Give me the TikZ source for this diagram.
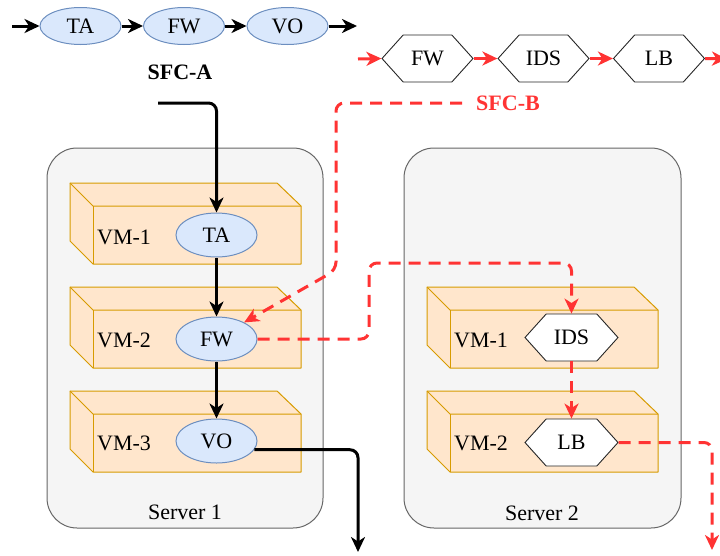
\documentclass[tikz,border=0pt]{standalone}
\usepackage{fontspec}
\setmainfont{Liberation Serif}
\usetikzlibrary{arrows.meta,shapes.symbols,shapes.geometric}
\definecolor{srvfill}{HTML}{F5F5F5}
\definecolor{srvline}{HTML}{666666}
\definecolor{vmfill}{HTML}{FFE6CC}
\definecolor{vmline}{HTML}{D79B00}
\definecolor{vnffill}{HTML}{DAE8FC}
\definecolor{vnfline}{HTML}{6C8EBF}
\definecolor{chainb}{HTML}{FF3333}
\tikzset{
  server/.style={draw=srvline, fill=srvfill, line width=1pt, rounded corners=30pt},
  vnf/.style={ellipse, draw=vnfline, fill=vnffill, line width=1pt, inner sep=0pt,
    minimum width=81pt, minimum height=44pt},
  topvnf/.style={vnf, minimum height=37pt},
  hexvnf/.style={shape=signal, signal to=west and east, signal pointer angle=96,
    draw=black!85, fill=white, line width=0.9pt, inner sep=0pt,
    minimum width=93pt, minimum height=47pt},
  tophex/.style={hexvnf, minimum width=91pt},
  arrowend/.style={-{Stealth[length=15pt,width=14pt,inset=4.5pt]}},
  flowa/.style={arrowend, line width=3pt, black, rounded corners=8pt},
  flowb/.style={arrowend, line width=3pt, chainb, dash pattern=on 12pt off 8pt,
    rounded corners=8pt},
  chaina/.style={arrowend, line width=3pt, black},
  chainbtop/.style={arrowend, line width=3pt, chainb},
  vmlabel/.style={anchor=west, inner sep=0pt},
  vmbox/.pic={
    \path[fill=vmfill, draw=vmline, line width=1pt, line join=round]
      (0,0) -- (207,0) -- (231,23) -- (231,81) -- (23,81) -- (0,58) -- cycle;
    \draw[vmline, line width=1pt, line join=round] (0,0) -- (23,23) -- (231,23);
    \draw[vmline, line width=1pt] (23,23) -- (23,81);
  }
}
\begin{document}
\begin{tikzpicture}[x=1pt, y=-1pt, font=\fontsize{22}{25}\selectfont]
\useasboundingbox (0,0) rectangle (720,555);

% servers
\path[server] (47,148) rectangle (323,528);
\path[server] (404,148) rectangle (681,528);
\node (srv1) at (185,512) {Server 1};
\node (srv2) at (542,513) {Server 2};

% virtual machines
\pic at (70,183) {vmbox};
\pic at (70,287) {vmbox};
\pic at (70,391) {vmbox};
\pic at (427,287) {vmbox};
\pic at (427,391) {vmbox};
\node[vmlabel] (vm11) at (97,237) {VM-1};
\node[vmlabel] (vm12) at (97,340) {VM-2};
\node[vmlabel] (vm13) at (97,443) {VM-3};
\node[vmlabel] (vm21) at (454,340) {VM-1};
\node[vmlabel] (vm22) at (454,443) {VM-2};

% functions placed on the servers
\node[vnf] (ta) at (216.5,235) {TA};
\node[vnf] (fw) at (216.5,339) {FW};
\node[vnf] (vo) at (216.5,441) {VO};
\node[hexvnf] (ids) at (571.5,337.5) {IDS};
\node[hexvnf] (lb) at (571.5,442.5) {LB};

% chain SFC-A (top left)
\node[topvnf] (ta0) at (80.5,26) {TA};
\node[topvnf] (fw0) at (184,26) {FW};
\node[topvnf] (vo0) at (287.5,26) {VO};
\node[font=\fontsize{22}{25}\selectfont\bfseries] (sfca) at (180,72) {SFC-A};
\coordinate (ain) at (12,26);
\coordinate (aout) at (357,26);
\draw[chaina] (ain) -- (ta0.west);
\draw[chaina] (ta0.east) -- (fw0.west);
\draw[chaina] (fw0.east) -- (vo0.west);
\draw[chaina] (vo0.east) -- (aout);

% chain SFC-B (top right)
\node[tophex] (fw1) at (427.5,58.5) {FW};
\node[tophex] (ids1) at (543.5,58.5) {IDS};
\node[tophex] (lb1) at (659,58.5) {LB};
\node[font=\fontsize{22}{25}\selectfont\bfseries, text=chainb] (sfcb) at (508,103) {SFC-B};
\coordinate (bin) at (358,59);
\coordinate (bout) at (727,59);
\draw[chainbtop] (bin) -- (fw1.west);
\draw[chainbtop] (fw1.east) -- (ids1.west);
\draw[chainbtop] (ids1.east) -- (lb1.west);
\draw[chainbtop] (lb1.east) -- (bout);

% SFC-A path through server 1
\coordinate (astart) at (158,103);
\coordinate (aend) at (358,552);
\draw[flowa] (astart) -| (ta.north);
\draw[flowa] (ta.south) -- (fw.north);
\draw[flowa] (fw.south) -- (vo.north);
\draw[flowa] (vo.-13) -| (aend);

% SFC-B path across both servers
\coordinate (bstart) at (462,103);
\coordinate (bturn) at (336,270);
\coordinate (bover) at (369,263);
\coordinate (bend) at (712,550);
\draw[flowb] (bstart) -| (bturn) -- (fw.31);
\draw[flowb] (fw.east) -| (bover) -| (ids.north);
\draw[flowb] (ids.south) -- (lb.north);
\draw[flowb] (lb.east) -| (bend);
\end{tikzpicture}
\end{document}
